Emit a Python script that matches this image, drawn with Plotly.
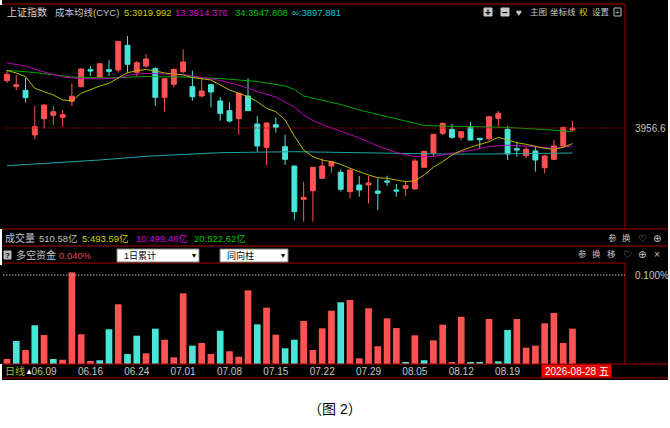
import plotly.graph_objects as go

W, H = 670, 428

# ---------------- data ----------------
idx = list(range(62))
opens = [4067.8, 4053.7, 4045.2, 3940.2, 3978.5, 3986.5, 3981.7, 4019.3, 4053.7, 4093.6,
         4075.7, 4093.6, 4092.9, 4150.9, 4087.5, 4102.3, 4096.0, 4028.7, 4059.3, 4088.9,
         4053.7, 4031.8, 4058.4, 4020.1, 3997.3, 3978.5, 4031.8, 3966.0, 3911.2, 3964.4,
         3912.7, 3867.3, 3789.0, 3809.3, 3838.4, 3867.3, 3852.5, 3806.9, 3822.7, 3822.7,
         3808.6, 3832.1, 3810.9, 3814.9, 3813.3, 3864.2, 3897.1, 3944.1, 3953.5, 3934.7,
         3958.2, 3932.4, 3931.5, 3979.4, 3953.5, 3908.0, 3891.5, 3902.6, 3863.3, 3883.0,
         3914.3, 3951.9]
highs = [4092.9, 4081.2, 4074.8, 4008.3, 4011.5, 4008.3, 3998.9, 4061.6, 4096.0, 4102.3,
         4108.5, 4116.4, 4161.0, 4172.8, 4114.0, 4130.5, 4099.2, 4073.0, 4095.0, 4141.5,
         4091.3, 4073.4, 4059.0, 4029.5, 4017.0, 4039.0, 4073.4, 3984.8, 3969.0, 3981.7,
         3940.9, 3868.0, 3830.4, 3865.0, 3885.4, 3878.0, 3859.5, 3858.6, 3843.8, 3844.5,
         3838.4, 3844.5, 3825.0, 3830.4, 3883.8, 3902.5, 3942.5, 3969.1, 3966.0, 3948.5,
         3970.0, 3933.0, 3984.0, 3996.6, 3961.3, 3924.4, 3912.7, 3912.7, 3893.2, 3928.4,
         3959.0, 3973.0]
lows = [4062.4, 4045.9, 4016.1, 3930.0, 3955.9, 3963.7, 3959.7, 4008.3, 4052.2, 4078.8,
        4073.4, 4078.8, 4086.6, 4085.1, 4078.8, 4098.3, 4008.3, 3994.9, 4052.2, 4085.1,
        4020.8, 4028.7, 4005.2, 3973.8, 3970.0, 3940.9, 3996.5, 3900.9, 3869.7, 3945.6,
        3869.7, 3740.4, 3736.4, 3736.4, 3837.6, 3851.6, 3806.9, 3791.4, 3795.2, 3779.6,
        3763.9, 3820.3, 3795.2, 3796.8, 3812.5, 3863.5, 3889.2, 3940.2, 3931.5, 3928.4,
        3926.8, 3908.0, 3926.8, 3959.7, 3881.4, 3889.2, 3885.4, 3853.9, 3850.1, 3882.3,
        3912.7, 3949.6]
closes = [4082.8, 4058.4, 4027.8, 3959.7, 4010.7, 3994.9, 3987.9, 4031.1, 4095.3, 4090.6,
          4107.7, 4089.8, 4160.3, 4106.3, 4110.1, 4118.8, 4028.7, 4072.5, 4094.5, 4111.7,
          4030.2, 4043.6, 4041.2, 3991.1, 3973.0, 4038.1, 3997.3, 3914.3, 3968.4, 3958.2,
          3883.0, 3759.9, 3793.7, 3864.2, 3867.3, 3877.4, 3812.5, 3857.9, 3810.9, 3827.4,
          3803.1, 3829.7, 3808.6, 3821.0, 3879.0, 3901.8, 3941.8, 3967.6, 3934.7, 3947.9,
          3928.4, 3929.1, 3983.2, 3991.1, 3895.5, 3904.9, 3906.5, 3881.4, 3890.8, 3914.3,
          3958.2, 3956.6]

ma5 = [4091.7, 4085.9, 4077.2, 4049.9, 4041.9, 4034.2, 4022.4, 4020.8, 4038.1, 4047.5,
       4055.3, 4061.6, 4074.1, 4086.6, 4091.2, 4094.1, 4090.6, 4085.9, 4083.5, 4081.2,
       4075.3, 4071.8, 4069.4, 4057.7, 4045.9, 4038.1, 4030.2, 4018.4, 4002.9, 3994.9,
       3975.4, 3937.8, 3904.9, 3889.1, 3881.4, 3877.4, 3871.3, 3861.9, 3853.9, 3846.2,
       3839.8, 3838.4, 3834.4, 3830.4, 3832.8, 3846.2, 3864.3, 3877.4, 3893.2, 3903.3,
       3911.3, 3918.3, 3924.4, 3934.8, 3928.4, 3922.1, 3918.3, 3912.7, 3908.9, 3906.6,
       3911.3, 3919.992]
ma13_x = [0, 2, 4, 6, 8, 10, 12, 13, 14, 15, 17, 19, 21, 23, 25, 27, 29, 31, 32, 33, 34,
          36, 38, 40, 42, 44, 46, 48, 50, 52, 54, 56, 58, 59, 60, 61]
ma13 = [4109.4, 4102.3, 4088.2, 4076.5, 4072.5, 4071.8, 4074.1, 4080.0, 4083.5, 4084.7,
        4083.5, 4082.3, 4075.3, 4068.2, 4057.7, 4042.4, 4029.5, 4006.0, 3987.1, 3974.2,
        3964.8, 3948.4, 3933.1, 3914.3, 3899.0, 3889.6, 3889.2, 3897.1, 3903.7, 3913.1,
        3916.2, 3914.3, 3910.8, 3908.9, 3911.3, 3914.376]
ma34_x = [0, 3, 7, 11, 15, 19, 23, 27, 30, 31, 32, 34, 36, 38, 42, 45, 47, 51, 54, 58, 61]
ma34 = [4092.2, 4087.0, 4076.4, 4074.1, 4077.6, 4076.4, 4072.9, 4065.9, 4055.3, 4047.1,
        4031.8, 4021.2, 4011.8, 3998.9, 3977.7, 3962.5, 3961.3, 3959.0, 3957.8, 3953.1,
        3947.808]
mainf_x = [0, 10, 15, 23, 31, 35, 40, 47, 52, 61]
mainf = [3868.0, 3881.4, 3890.1, 3898.6, 3900.9, 3899.5, 3896.7, 3895.5, 3895.5, 3897.881]

fund = [0.0056, 0.0258, 0.0157, 0.0435, 0.0326, 0.0056, 0.0048, 0.1030, 0.0334, 0.0034,
        0.0042, 0.0390, 0.0671, 0.0112, 0.0318, 0.0120, 0.0397, 0.0273, 0.0075, 0.0794,
        0.0206, 0.0236, 0.0112, 0.0374, 0.0143, 0.0082, 0.0828, 0.0446, 0.0633, 0.0329,
        0.0176, 0.0273, 0.0483, 0.0157, 0.0401, 0.0599, 0.0693, 0.0719, 0.0064, 0.0626,
        0.0199, 0.0513, 0.0404, 0.0015, 0.0322, 0.0042, 0.0266, 0.0442, 0.0015, 0.0531,
        0.0015, 0.0022, 0.0506, 0.0030, 0.0382, 0.0506, 0.0183, 0.0206, 0.0457, 0.0573,
        0.0236, 0.0397]
fund_dir = "rcrcrcrrrrccrccrcrrrcrrcrrrcrrccrrrrcrrrrrrcrcrrrrccrccrrrrrrr"

tick_idx = [4, 9, 14, 19, 24, 29, 34, 39, 44, 49, 54]
tick_txt = ["06.09", "06.16", "06.24", "07.01", "07.08", "07.15", "07.22",
            "07.29", "08.05", "08.12", "08.19"]
last_price = 3956.6

# ---------------- styling ----------------
RED = "#ff5252"
CYAN = "#48e6d8"
LINE = "#a80000"
GRAY = "#c4c4c4"
FONT = "Liberation Sans, DejaVu Sans, Noto Sans CJK SC"

def px(x):
    return x / W

def py(y):
    return 1 - y / H

# x pixel = 7 + 9.27 * index ; plot area 0..625 px
X_RANGE = [(0 - 7) / 9.27, (625 - 7) / 9.27]
# price = 4257.4 - 2.35 * pixel_y
Y_RANGE = [4257.4 - 2.35 * 229, 4257.4 - 2.35 * 5]

fig = go.Figure()

fig.add_trace(go.Candlestick(
    x=idx, open=opens, high=highs, low=lows, close=closes,
    increasing=dict(line=dict(color=RED, width=1), fillcolor=RED),
    decreasing=dict(line=dict(color=CYAN, width=1), fillcolor=CYAN),
    whiskerwidth=0, xaxis="x", yaxis="y", showlegend=False, hoverinfo="skip"))

for xs, ys, col in [(mainf_x, mainf, "#1aa6a6"), (ma34_x, ma34, "#00a800"),
                    (ma13_x, ma13, "#b800b8"), (idx, ma5, "#b8b800")]:
    fig.add_trace(go.Scatter(x=xs, y=ys, mode="lines", line=dict(color=col, width=1),
                             xaxis="x", yaxis="y", showlegend=False, hoverinfo="skip"))

fig.add_trace(go.Bar(x=idx, y=fund,
                     marker=dict(color=[RED if d == "r" else CYAN for d in fund_dir],
                                 line=dict(width=0)),
                     xaxis="x2", yaxis="y2", showlegend=False, hoverinfo="skip"))

shapes = []
# black panel
shapes.append(dict(type="rect", xref="paper", yref="paper", x0=px(2), x1=px(668),
                   y0=py(380), y1=py(0), fillcolor="black", line=dict(width=0), layer="below"))

def hline(y, x0, x1, color=LINE, dash="solid"):
    shapes.append(dict(type="line", xref="paper", yref="paper", x0=px(x0), x1=px(x1),
                       y0=py(y), y1=py(y), line=dict(color=color, width=1, dash=dash)))

def vline(x, y0, y1):
    shapes.append(dict(type="line", xref="paper", yref="paper", x0=px(x), x1=px(x),
                       y0=py(y0), y1=py(y1), line=dict(color=LINE, width=1)))

hline(4, 2, 625)
hline(229, 2, 668)
hline(246, 2, 668)
hline(263, 2, 625)
hline(364, 2, 668)
hline(378, 2, 668)
vline(625, 4, 229)
vline(625, 263, 364)

# reference dotted lines via axes
shapes.append(dict(type="line", xref="paper", yref="y", x0=px(3), x1=px(625),
                   y0=last_price, y1=last_price, line=dict(color="#b00000", width=1, dash="1.5px,1.5px")))
shapes.append(dict(type="line", xref="paper", yref="y2", x0=px(3), x1=px(625),
                   y0=0.1, y1=0.1, line=dict(color="#b8b8b8", width=1, dash="1.5px,1.5px")))

# dropdown boxes and icon boxes
def rect(x0, y0, x1, y1, fill, line_col=None):
    shapes.append(dict(type="rect", xref="paper", yref="paper", x0=px(x0), x1=px(x1),
                       y0=py(y1), y1=py(y0), fillcolor=fill,
                       line=dict(color=line_col or fill, width=1)))

rect(117, 249, 199, 262, "white", "#808080")
rect(220, 249, 288, 262, "white", "#808080")
rect(4, 251, 11, 259, "#b8b8b8")
rect(484, 8, 492, 16, "#c8c8c8")
rect(501, 8, 509, 16, "#c8c8c8")
rect(614, 8, 621, 16, "black", "#c0c0c0")
rect(542, 365, 611, 377, "#ee0000")

ann = []

def txt(x, y, s, color=GRAY, size=10, anchor="left", bold=False):
    if bold:
        s = "<b>" + s + "</b>"
    ann.append(dict(x=px(x), y=py(y), xref="paper", yref="paper", text=s, showarrow=False,
                    xanchor=anchor, yanchor="middle", font=dict(family=FONT, size=size, color=color)))

# title row
txt(5, 12, "上证指数", "#d8d8c8", 10)
txt(53, 12, "成本均线(CYC)", GRAY, 9.5)
txt(122, 12, "5:3919.992", "#d0d000", 9.5)
txt(173, 12, "13:3914.376", "#d000d0", 9.5)
txt(233, 12, "34:3947.808", "#00c000", 9.5)
txt(290, 12, "∞:3897.881", "#00c8c8", 9.5)
txt(488, 12, "+", "black", 10, "center", True)
txt(505, 12, "−", "black", 10, "center", True)
txt(519, 12, "♥", "#c8c8c8", 10, "center")
txt(528, 12, "主图", GRAY, 8.5)
txt(548, 12, "坐标线", GRAY, 8.5)
txt(577, 12, "权", "#d0d000", 8.5)
txt(590, 12, "设置", GRAY, 8.5)
txt(617.5, 12, "+", "#c0c0c0", 8, "center")

# volume row
txt(3, 238, "成交量", GRAY, 10)
txt(37, 238, "510.58亿", GRAY, 9.5)
txt(80, 238, "5:493.59亿", "#d0d000", 9.5)
txt(134, 238, "10:499.48亿", "#d000d0", 9.5)
txt(192, 238, "20:522.62亿", "#00c000", 9.5)
txt(612, 238, "参", GRAY, 8.5, "center")
txt(626, 238, "换", GRAY, 8.5, "center")
txt(642, 238, "♡", GRAY, 10, "center")
txt(657, 238, "⊕", GRAY, 10, "center")

# fund row
txt(7.5, 255, "?", "black", 8, "center", True)
txt(14, 255, "多空资金", GRAY, 10)
txt(57, 255, "0.040%", "#e04848", 9.5)
txt(122, 255.5, "1日累计", "black", 9)
txt(194, 255.5, "▾", "black", 8, "center")
txt(225, 255.5, "同向柱", "black", 9)
txt(283, 255.5, "▾", "black", 8, "center")
txt(582, 254, "参", GRAY, 8.5, "center")
txt(596, 254, "换", GRAY, 8.5, "center")
txt(611, 254, "移", GRAY, 8.5, "center")
txt(627, 254, "♡", GRAY, 10, "center")
txt(642, 254, "⊕", GRAY, 10, "center")
txt(657, 254, "×", GRAY, 10, "center")

# bottom row
txt(3, 371, "日线", "#b4b440", 10)
txt(29, 371, "▲", "white", 8, "center")
txt(576.5, 371, "2026-08-28 五", "white", 10, "center")

# caption
txt(335, 409, "（图 2）", "black", 14, "center")

fig.update_layout(
    width=W, height=H, margin=dict(l=0, r=0, t=0, b=0),
    paper_bgcolor="white", plot_bgcolor="black",
    shapes=shapes, annotations=ann, bargap=0.28, boxgap=0.25,
    xaxis=dict(domain=[0, px(625)], range=X_RANGE, showgrid=False, zeroline=False,
               showticklabels=False, rangeslider=dict(visible=False), anchor="y", fixedrange=True),
    yaxis=dict(domain=[py(229), py(5)], range=Y_RANGE, showgrid=False, zeroline=False,
               side="right", anchor="x", tickvals=[last_price], ticktext=["3956.6"], ticks="",
               ticklabelstandoff=9, tickfont=dict(family=FONT, size=10, color=GRAY)),
    xaxis2=dict(domain=[0, px(625)], range=X_RANGE, showgrid=False, zeroline=False,
                anchor="y2", matches="x", tickvals=tick_idx, ticktext=tick_txt, ticks="",
                tickfont=dict(family=FONT, size=10, color=GRAY)),
    yaxis2=dict(domain=[py(364), py(265)], range=[0, (364 - 265) / 890], showgrid=False,
                zeroline=False, side="right", anchor="x2", tickvals=[0.1], ticktext=["0.100%"],
                ticks="", ticklabelstandoff=9, tickfont=dict(family=FONT, size=10, color=GRAY)),
)

fig.write_html("out.html", config={"displayModeBar": False},
               post_script="document.body.style.margin='0';document.body.style.overflow='hidden';")
